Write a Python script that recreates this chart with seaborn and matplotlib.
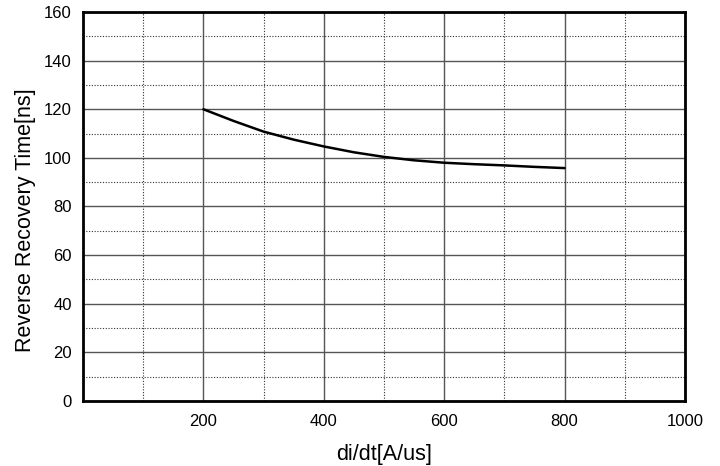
import matplotlib
matplotlib.use("Agg")
import matplotlib.pyplot as plt
import seaborn as sns
import pandas as pd
from matplotlib.ticker import MultipleLocator

didt = [200, 250, 300, 350, 400, 450, 500, 550, 600, 650, 700, 750, 800]
trr = [120.0, 115.2, 110.8, 107.5, 104.7, 102.3, 100.4, 99.0, 98.0, 97.4, 96.9, 96.3, 95.8]
x_ticks = [200, 400, 600, 800, 1000]
y_ticks = [0, 20, 40, 60, 80, 100, 120, 140, 160]

sns.set_style("white")
plt.rcParams['font.family'] = ['Liberation Sans', 'DejaVu Sans']

df = pd.DataFrame({"x": didt, "y": trr})
fig = plt.figure(figsize=(7.2, 4.66), dpi=100)
ax = fig.add_axes([83/720, 1-401/466, (685-83)/720, (401-12)/466])
sns.lineplot(data=df, x="x", y="y", ax=ax, color="black", linewidth=1.8)
ax.set_xlim(0, 1000)
ax.set_ylim(0, 160)
ax.set_xticks(x_ticks)
ax.set_yticks(y_ticks)
ax.xaxis.set_minor_locator(MultipleLocator(100))
ax.yaxis.set_minor_locator(MultipleLocator(10))
ax.grid(which="major", color="#555555", linewidth=1.0, linestyle="-")
ax.grid(which="minor", color="#333333", linewidth=0.8, linestyle=(0, (1, 1.5)))
ax.set_axisbelow(True)
ax.tick_params(which="both", length=0, labelsize=12, colors="black")
ax.tick_params(axis="x", pad=9)
ax.tick_params(axis="y", pad=8)
for s in ax.spines.values():
    s.set_linewidth(2)
    s.set_color("black")
ax.set_xlabel("di/dt[A/us]", fontsize=15.5, labelpad=11, color="black")
ax.set_ylabel("Reverse Recovery Time[ns]", fontsize=15.5, labelpad=6, color="black")
ax.yaxis.label.set_y(0.465)
fig.savefig("out.png", dpi=100)
